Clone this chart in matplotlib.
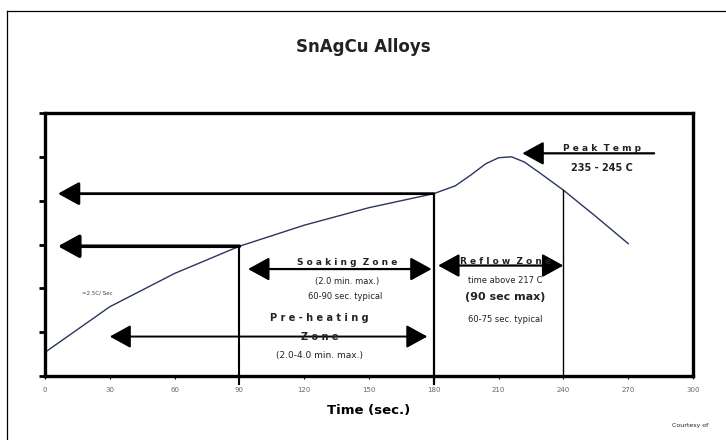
import numpy as np
import matplotlib
matplotlib.use("Agg")
import matplotlib.pyplot as plt
from matplotlib.lines import Line2D

# --- reflow profile (SnAgCu) ---
time_s = [0, 30, 60, 90, 120, 150, 180, 190, 197, 204, 210, 216, 222, 230, 240, 255, 270]
temp_c = [27, 79, 117, 148, 172, 192, 208, 217, 229, 242, 249, 250, 244, 230, 212, 182, 151]

x_ticks = [0, 30, 60, 90, 120, 150, 180, 210, 240, 270, 300]
y_ticks = [0, 50, 100, 150, 200, 250, 300]

# zone boundaries (time, temp where the line meets the curve)
zone_t = [90, 180, 240]
zone_T = [148, 208, 212]

fig = plt.figure(figsize=(7.26, 4.4), dpi=100)
ax = fig.add_axes([45 / 726, 1 - 376 / 440, 648 / 726, 263 / 440])

# outer frame (left + top only visible)
fig.add_artist(Line2D([7 / 726, 7 / 726], [0, 1 - 11 / 440], color="black", lw=0.9))
fig.add_artist(Line2D([7 / 726, 1], [1 - 11 / 440, 1 - 11 / 440], color="black", lw=0.9))

ax.plot(time_s, temp_c, color="#2a3560", lw=1.0)

# vertical zone lines
ax.plot([zone_t[0]] * 2, [-9, zone_T[0]], color="black", lw=1.5, clip_on=False)
ax.plot([zone_t[1]] * 2, [-9, zone_T[1]], color="black", lw=1.6, clip_on=False)
ax.plot([zone_t[2]] * 2, [0, zone_T[2]], color="black", lw=1.0)

def arrow(x0, x1, y, style="-|>", lw=1.8):
    ax.annotate("", xy=(x1, y), xytext=(x0, y),
                arrowprops=dict(arrowstyle=style + ",head_length=1.0,head_width=0.55",
                                mutation_scale=13, lw=lw, color="black",
                                shrinkA=0, shrinkB=0))

arrow(180, 6, 208, lw=2.0)
arrow(90, 6, 148, lw=2.6)
arrow(94, 179, 122, style="<|-|>", lw=1.6)
arrow(177, 30, 45, style="<|-|>", lw=1.4)
arrow(182, 240, 126, style="<|-|>", lw=1.6)
arrow(282, 221, 254, lw=1.6)

tk = dict(ha="center", va="center", color="#222222")
ax.text(140, 130, "S o a k i n g  Z o n e", fontsize=6.5, fontweight="bold", **tk)
ax.text(140, 108, "(2.0 min. max.)", fontsize=6, **tk)
ax.text(139, 91, "60-90 sec. typical", fontsize=6, **tk)
ax.text(127, 66, "P r e - h e a t i n g", fontsize=7, fontweight="bold", **tk)
ax.text(127, 44, "Z o n e", fontsize=7, fontweight="bold", **tk)
ax.text(127, 23, "(2.0-4.0 min. max.)", fontsize=6.5, **tk)
ax.text(213, 131, "R e f l o w  Z o n e", fontsize=6.5, fontweight="bold", **tk)
ax.text(213, 109, "time above 217 C", fontsize=6, **tk)
ax.text(213, 90, "(90 sec max)", fontsize=8, fontweight="bold", **tk)
ax.text(213, 65, "60-75 sec. typical", fontsize=6, **tk)
ax.text(258, 259, "P e a k  T e m p", fontsize=6.5, fontweight="bold", **tk)
ax.text(258, 237, "235 - 245 C", fontsize=7, fontweight="bold", **tk)
ax.text(17, 95, "=2.5C/ Sec", fontsize=4, ha="left", va="center", color="#444444")

ax.set_xlim(0, 300)
ax.set_ylim(0, 300)
ax.set_xticks(x_ticks)
ax.set_yticks(y_ticks)
ax.set_xticklabels([str(v) for v in x_ticks], fontsize=5, color="#666666")
ax.set_yticklabels([])
ax.tick_params(axis="y", direction="out", length=4, width=2)
ax.tick_params(axis="x", direction="out", length=2, width=0.8, pad=6)
for s in ax.spines.values():
    s.set_linewidth(2.4)

ax.set_xlabel("Time (sec.)", fontsize=9.5, fontweight="bold", labelpad=8)
fig.text(0.5, 1 - 47 / 440, "SnAgCu Alloys", ha="center", va="center",
         fontsize=12, fontweight="bold", color="#222222")
fig.text(690 / 726, 1 - 425 / 440, "Courtesy of", ha="center", va="center",
         fontsize=4.5, color="#222222")

fig.savefig("out.png", dpi=100)
